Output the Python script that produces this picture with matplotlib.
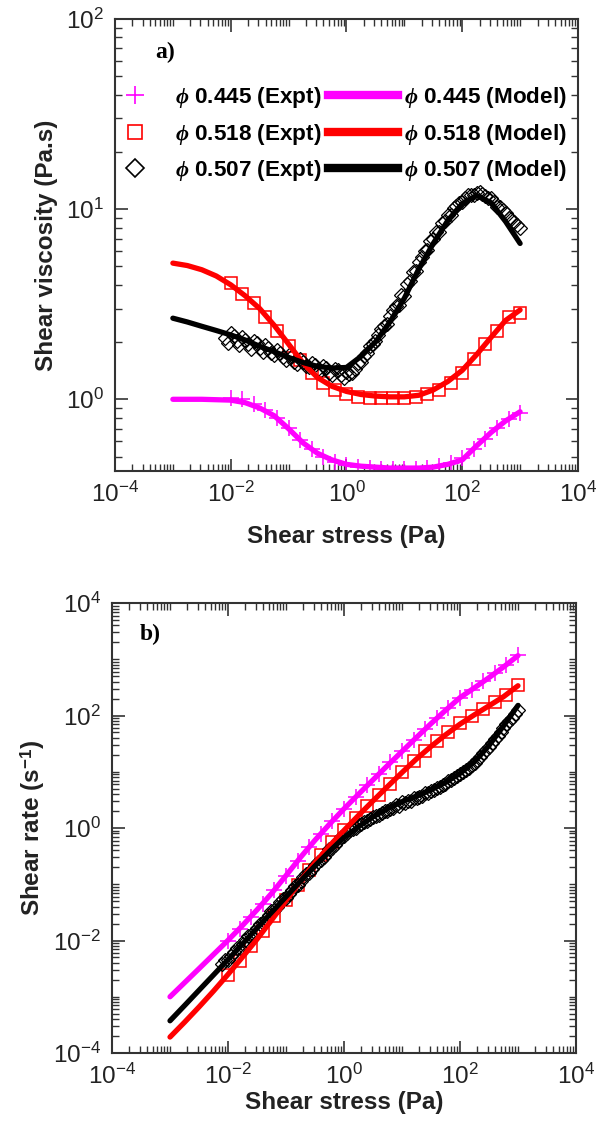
import numpy as np
import matplotlib.pyplot as plt
from matplotlib.lines import Line2D
from matplotlib.ticker import LogLocator, NullFormatter, FixedLocator

plt.rcParams['font.family'] = ['Liberation Sans', 'DejaVu Sans']
plt.rcParams['mathtext.fontset'] = 'custom'
plt.rcParams['mathtext.rm'] = 'Liberation Sans'
plt.rcParams['mathtext.bf'] = 'Liberation Sans:bold'
plt.rcParams['mathtext.it'] = 'Liberation Serif:italic:bold'

# model curves (stress in Pa, viscosity in Pa.s)
model_stress = [1e-3, 1.778e-3, 3.162e-3, 5.623e-3, 1e-2, 1.778e-2, 3.162e-2, 5.623e-2,
                0.1, 0.1778, 0.3162, 0.5623, 1.0, 1.778, 3.162, 5.623,
                10.0, 17.78, 31.62, 56.23, 100.0, 177.8, 316.2, 562.3, 1000.0]
model_445 = [1.0, 1.0, 1.0, 0.995, 0.99, 0.96, 0.90, 0.82, 0.70, 0.59, 0.52, 0.48, 0.455,
             0.445, 0.44, 0.435, 0.435, 0.435, 0.44, 0.455, 0.48, 0.57, 0.67, 0.77, 0.86]
model_518 = [5.2, 5.05, 4.8, 4.45, 4.0, 3.5, 3.0, 2.45, 1.95, 1.55, 1.3, 1.17, 1.1,
             1.06, 1.04, 1.03, 1.03, 1.05, 1.12, 1.24, 1.42, 1.72, 2.12, 2.6, 2.95]
model_507 = [2.67, 2.55, 2.42, 2.3, 2.18, 2.05, 1.9, 1.78, 1.66, 1.56, 1.49, 1.46, 1.47,
             1.68, 2.0, 2.55, 3.4, 4.85, 6.6, 8.7, 10.7, 11.8, 10.8, 8.6, 6.6]

# experimental points
expt_stress = [0.01, 0.0158, 0.0251, 0.0398, 0.0631, 0.1, 0.158, 0.251, 0.398, 0.631,
               1.0, 1.58, 2.51, 3.98, 6.31, 10.0, 15.8, 25.1, 39.8, 63.1,
               100.0, 158.0, 251.0, 398.0, 631.0, 1000.0]
expt_445 = [1.02, 1.0, 0.95, 0.88, 0.80, 0.71, 0.61, 0.55, 0.50, 0.47,
            0.45, 0.44, 0.435, 0.43, 0.43, 0.43, 0.43, 0.435, 0.445, 0.46,
            0.49, 0.55, 0.62, 0.71, 0.79, 0.85]
expt_518 = [4.1, 3.6, 3.2, 2.7, 2.3, 1.9, 1.6, 1.38, 1.22, 1.12,
            1.07, 1.03, 1.01, 1.01, 1.02, 1.01, 1.03, 1.06, 1.12, 1.22,
            1.38, 1.62, 1.95, 2.3, 2.7, 2.85]
# phi 0.507: two interleaved runs
expt_stress_507 = [0.00794, 0.01, 0.0126, 0.0158, 0.02, 0.0251, 0.0316, 0.0398, 0.0501, 0.0631,
                   0.0794, 0.1, 0.126, 0.158, 0.2, 0.251, 0.316, 0.398, 0.501, 0.631,
                   0.794, 1.0, 1.26, 1.58, 2.0, 2.51, 3.16, 3.98, 5.01, 6.31,
                   7.94, 10.0, 12.6, 15.8, 20.0, 25.1, 31.6, 39.8, 50.1, 63.1,
                   79.4, 100.0, 126.0, 158.0, 200.0, 251.0, 316.0, 398.0, 501.0, 631.0,
                   794.0, 1000.0]
expt_507 = [2.10, 2.22, 2.02, 2.12, 1.95, 2.03, 1.86, 1.93, 1.76, 1.82,
            1.66, 1.72, 1.57, 1.63, 1.50, 1.56, 1.44, 1.50, 1.38, 1.45,
            1.34, 1.40, 1.38, 1.55, 1.68, 1.90, 2.02, 2.35, 2.5, 2.95,
            3.15, 3.5, 4.2, 4.7, 5.6, 6.1, 7.0, 7.6, 8.7, 9.3,
            10.4, 10.9, 11.8, 11.9, 12.3, 11.7, 11.4, 10.3, 9.9, 9.0,
            8.6, 8.0]
expt_stress_507b = [0.00891, 0.0112, 0.0141, 0.0178, 0.0224, 0.0282, 0.0355, 0.0447, 0.0562, 0.0708,
                    0.0891, 0.112, 0.141, 0.178, 0.224, 0.282, 0.355, 0.447, 0.562, 0.708,
                    0.891, 1.12, 1.41, 1.78, 2.24, 2.82, 3.55, 4.47, 5.62, 7.08,
                    8.91, 11.2, 14.1, 17.8, 22.4, 28.2, 35.5, 44.7, 56.2, 70.8,
                    89.1, 112.0, 141.0, 178.0, 224.0, 282.0, 355.0, 447.0, 562.0, 708.0,
                    891.0]
expt_507b = [1.98, 2.15, 1.92, 2.06, 1.84, 1.97, 1.78, 1.86, 1.70, 1.76,
             1.61, 1.66, 1.53, 1.58, 1.47, 1.52, 1.41, 1.46, 1.35, 1.42,
             1.30, 1.36, 1.44, 1.58, 1.76, 1.95, 2.18, 2.42, 2.75, 3.1,
             3.55, 4.05, 4.65, 5.3, 6.0, 6.8, 7.6, 8.5, 9.3, 10.1,
             10.8, 11.4, 11.9, 12.2, 12.0, 11.5, 10.9, 10.2, 9.5, 8.9,
             8.3]

MAG, RED, BLK = '#ff00ff', '#ff0000', '#000000'
labels_expt = ['$\\phi$ 0.445 (Expt)', '$\\phi$ 0.518 (Expt)', '$\\phi$ 0.507 (Expt)']
labels_model = ['$\\phi$ 0.445 (Model)', '$\\phi$ 0.518 (Model)', '$\\phi$ 0.507 (Model)']
TXT = '#222222'


def style_axes(ax, ylim, ymajor, xpad):
    ax.set_xscale('log')
    ax.set_yscale('log')
    ax.set_xlim(1e-4, 1e4)
    ax.set_ylim(*ylim)
    ax.xaxis.set_major_locator(FixedLocator([1e-4, 1e-2, 1e0, 1e2, 1e4]))
    ax.xaxis.set_minor_locator(LogLocator(base=10, subs=np.arange(1, 10), numticks=50))
    ax.yaxis.set_major_locator(FixedLocator(ymajor))
    ax.yaxis.set_minor_locator(LogLocator(base=10, subs=np.arange(1, 10), numticks=50))
    ax.xaxis.set_minor_formatter(NullFormatter())
    ax.yaxis.set_minor_formatter(NullFormatter())
    ax.tick_params(which='both', direction='in', top=True, right=True,
                   labelsize=17.5, color='#333333', labelcolor=TXT, pad=8)
    ax.tick_params(which='major', length=9, width=1.2)
    ax.tick_params(which='minor', length=5, width=1.0)
    for s in ax.spines.values():
        s.set_linewidth(1.5)
        s.set_color('#333333')
    ax.set_xlabel('Shear stress (Pa)', fontsize=17.5, fontweight='bold', color=TXT,
                  labelpad=xpad)


def draw(ax, ys):
    (m445, m518, m507, e445, e518, e507, e507b) = ys
    ax.plot(expt_stress, e445, ls='none', marker='+', ms=11, mew=1.1, color=MAG)
    ax.plot(expt_stress, e518, ls='none', marker='s', ms=9, mew=1.1, mfc='none', mec=RED)
    ax.plot(expt_stress_507, e507, ls='none', marker='D', ms=7.5, mew=0.9, mfc='none', mec=BLK)
    ax.plot(expt_stress_507b, e507b, ls='none', marker='D', ms=7.5, mew=0.9, mfc='none', mec=BLK)
    ax.plot(model_stress, m445, color=MAG, lw=3.8, solid_capstyle='round')
    ax.plot(model_stress, m518, color=RED, lw=3.8, solid_capstyle='round')
    ax.plot(model_stress, m507, color=BLK, lw=3.8, solid_capstyle='round')


fig = plt.figure(figsize=(5.98, 11.34), dpi=100)

# panel a: viscosity
ax1 = fig.add_axes([0.1923, 0.5847, 0.7742, 0.3986])
draw(ax1, (model_445, model_518, model_507, expt_445, expt_518, expt_507, expt_507b))
style_axes(ax1, (0.42, 100), [1e0, 1e1, 1e2], 13)
ax1.set_ylabel('Shear viscosity (Pa.s)', fontsize=17.5, fontweight='bold', color=TXT,
               labelpad=6)
ax1.text(0.087, 0.925, 'a)', transform=ax1.transAxes, fontsize=17, fontweight='bold',
         family='Liberation Serif', va='center')

handles = [Line2D([], [], ls='none', marker='+', ms=13, mew=1.2, color=MAG),
           Line2D([], [], ls='none', marker='s', ms=10, mew=1.2, mfc='none', mec=RED),
           Line2D([], [], ls='none', marker='D', ms=9, mew=1.2, mfc='none', mec=BLK),
           Line2D([], [], color=MAG, lw=6),
           Line2D([], [], color=RED, lw=6),
           Line2D([], [], color=BLK, lw=6)]
ax1.legend(handles, labels_expt + labels_model, ncol=2, frameon=False,
           loc='upper left', bbox_to_anchor=(-0.057, 0.878), borderpad=0,
           handlelength=3.1, handletextpad=0.25, columnspacing=0.3, labelspacing=0.5,
           prop={'size': 16.2, 'weight': 'bold'})

# panel b: shear rate = stress / viscosity
rate = lambda s, v: np.array(s) / np.array(v)
ax2 = fig.add_axes([0.1873, 0.0714, 0.7759, 0.3968])
draw(ax2, (rate(model_stress, model_445), rate(model_stress, model_518),
           rate(model_stress, model_507), rate(expt_stress, expt_445),
           rate(expt_stress, expt_518), rate(expt_stress_507, expt_507),
           rate(expt_stress_507b, expt_507b)))
style_axes(ax2, (1e-4, 1e4), [1e-4, 1e-2, 1e0, 1e2, 1e4], 1)
ax2.set_ylabel('Shear rate (s$^{\\mathbf{-1}}$)', fontsize=17.5, fontweight='bold', color=TXT)
ax2.text(0.06, 0.93, 'b)', transform=ax2.transAxes, fontsize=17, fontweight='bold',
         family='Liberation Serif', va='center')

fig.savefig('out.png', dpi=100)
